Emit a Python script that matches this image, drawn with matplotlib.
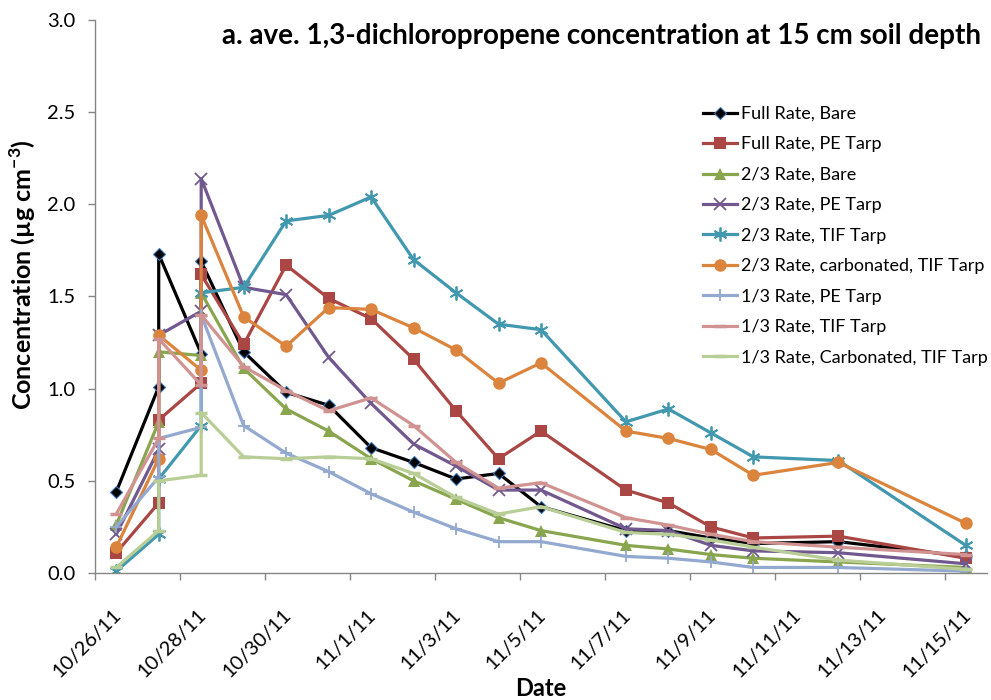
import matplotlib
matplotlib.use("Agg")
import matplotlib.pyplot as plt
import matplotlib.dates as mdates
import matplotlib.transforms as mtransforms
from matplotlib.ticker import FuncFormatter, FixedLocator
import pandas as pd

plt.rcParams['font.family'] = ['Lato', 'DejaVu Sans']
plt.rcParams['mathtext.fontset'] = 'custom'
plt.rcParams['mathtext.rm'] = 'Lato'
plt.rcParams['mathtext.bf'] = 'Lato:bold'

# ---------------- data ----------------
dates = ['10/26/11', '10/27/11', '10/27/11', '10/28/11', '10/28/11', '10/29/11',
         '10/30/11', '10/31/11', '11/1/11', '11/2/11', '11/3/11', '11/4/11',
         '11/5/11', '11/7/11', '11/8/11', '11/9/11', '11/10/11', '11/12/11',
         '11/15/11']

full_bare = [0.44, 1.01, 1.73, 1.19, 1.69, 1.20, 0.98, 0.91, 0.68, 0.60, 0.51, 0.54,
             0.36, 0.23, 0.23, 0.19, 0.16, 0.17, 0.09]
full_pe = [0.11, 0.38, 0.83, 1.03, 1.62, 1.24, 1.67, 1.49, 1.38, 1.16, 0.88, 0.62,
           0.77, 0.45, 0.38, 0.25, 0.19, 0.20, 0.08]
twothird_bare = [0.26, 0.82, 1.20, 1.18, 1.52, 1.11, 0.89, 0.77, 0.62, 0.50, 0.40, 0.30,
                 0.23, 0.15, 0.13, 0.10, 0.08, 0.06, 0.03]
twothird_pe = [0.21, 0.67, 1.29, 1.42, 2.14, 1.55, 1.51, 1.17, 0.92, 0.70, 0.58, 0.45,
               0.45, 0.24, 0.23, 0.15, 0.12, 0.11, 0.05]
twothird_tif = [0.01, 0.21, 0.51, 0.80, 1.52, 1.55, 1.91, 1.94, 2.04, 1.70, 1.52, 1.35,
                1.32, 0.82, 0.89, 0.76, 0.63, 0.61, 0.15]
twothird_carb_tif = [0.14, 0.62, 1.29, 1.10, 1.94, 1.39, 1.23, 1.44, 1.43, 1.33, 1.21, 1.03,
                     1.14, 0.77, 0.73, 0.67, 0.53, 0.60, 0.27]
third_pe = [0.25, 0.52, 0.73, 0.79, 1.40, 0.80, 0.65, 0.55, 0.43, 0.33, 0.24, 0.17,
            0.17, 0.09, 0.08, 0.06, 0.03, 0.03, 0.01]
third_tif = [0.32, 0.73, 1.27, 1.02, 1.40, 1.12, 0.99, 0.88, 0.95, 0.80, 0.60, 0.46,
             0.49, 0.30, 0.26, 0.21, 0.17, 0.14, 0.10]
third_carb_tif = [0.03, 0.23, 0.50, 0.53, 0.87, 0.63, 0.62, 0.63, 0.62, 0.54, 0.41, 0.32,
                  0.36, 0.22, 0.21, 0.18, 0.14, 0.07, 0.02]

series_names = ['Full Rate, Bare', 'Full Rate, PE Tarp', '2/3 Rate, Bare',
                '2/3 Rate, PE Tarp', '2/3 Rate, TIF Tarp',
                '2/3 Rate, carbonated, TIF Tarp', '1/3 Rate, PE Tarp',
                '1/3 Rate, TIF Tarp', '1/3 Rate, Carbonated, TIF Tarp']
series_values = [full_bare, full_pe, twothird_bare, twothird_pe, twothird_tif,
                 twothird_carb_tif, third_pe, third_tif, third_carb_tif]

# ---------------- styles ----------------
colors = ['#000000', '#AA4643', '#89A54E', '#71588F', '#4198AF',
          '#DB843D', '#93A9CF', '#D19392', '#B9CD96']
markers = ['D', 's', '^', 'x', (6, 2, 0), 'o', '+', '_', '_']
msizes = [6.5, 8, 8, 9, 10, 9, 9, 9, 9]

W, H = 991, 700
fig = plt.figure(figsize=(W / 100, H / 100), dpi=100)
ax = fig.add_axes([95 / W, 127 / H, (987 - 95) / W, (573 - 20) / H])

# points are plotted at the middle of each day (Excel date axis)
x = pd.to_datetime(dates, format='%m/%d/%y') + pd.Timedelta(hours=12)

lines = []
for name, vals, c, m, ms in zip(series_names, series_values, colors, markers, msizes):
    kw = dict(color=c, lw=2.3, marker=m, markersize=ms, label=name)
    if m == 'D':
        kw.update(markerfacecolor='#000000', markeredgecolor='#3F73B5', markeredgewidth=0.8)
    elif m in ('x', '+') or isinstance(m, tuple):
        kw.update(markeredgewidth=1.3)
    elif m == '_':
        kw.update(markeredgewidth=2.5)
    else:
        kw.update(markeredgewidth=0)
    ln, = ax.plot(x, vals, **kw)
    lines.append(ln)

# axes
ax.set_xlim(pd.Timestamp('2011-10-26'), pd.Timestamp('2011-11-16'))
ax.set_ylim(0, 3.0)
ticks = pd.date_range('2011-10-26', '2011-11-15', freq='2D')
ax.xaxis.set_major_locator(FixedLocator(mdates.date2num(ticks)))


def fmt_date(v, pos=None):
    d = mdates.num2date(v)
    return f"{d.month}/{d.day}/{d.strftime('%y')}"


ax.xaxis.set_major_formatter(FuncFormatter(fmt_date))
ax.set_yticks([0, 0.5, 1.0, 1.5, 2.0, 2.5, 3.0])
ax.yaxis.set_major_formatter(FuncFormatter(lambda v, p: f"{v:.1f}"))

for s in ['top', 'right']:
    ax.spines[s].set_visible(False)
for s in ['left', 'bottom']:
    ax.spines[s].set_color('#868686')
    ax.spines[s].set_linewidth(1.0)

ax.tick_params(axis='both', colors='#868686', length=5, width=1, direction='out',
               labelcolor='#000000', labelsize=14.5)
ax.tick_params(axis='y', pad=9)
ax.tick_params(axis='x', pad=19)

offset = mtransforms.ScaledTranslation(21 / 72, 0, fig.dpi_scale_trans)
for lbl in ax.get_xticklabels():
    lbl.set_rotation(45)
    lbl.set_ha('right')
    lbl.set_va('top')
    lbl.set_transform(lbl.get_transform() + offset)

ax.set_xlabel('Date', fontsize=17, fontweight='bold')
ax.xaxis.set_label_coords(0.5, -0.188)
ax.set_ylabel('Concentration (µg cm$^{\\mathbf{-3}}$)', fontsize=18, fontweight='bold')
ax.yaxis.set_label_coords(-0.064, 0.539)

fig.text(602 / W, 1 - 36 / H,
         'a. ave. 1,3-dichloropropene concentration at 15 cm soil depth',
         ha='center', va='center', fontsize=20, fontweight='bold')

leg = ax.legend(handles=lines, loc='upper left', bbox_to_anchor=(703 / W, 1 - 106 / H),
                bbox_transform=fig.transFigure, frameon=False, fontsize=13,
                handlelength=1.9, handletextpad=0.2, labelspacing=0.8, borderpad=0,
                borderaxespad=0)

fig.savefig('out.png', dpi=100)
